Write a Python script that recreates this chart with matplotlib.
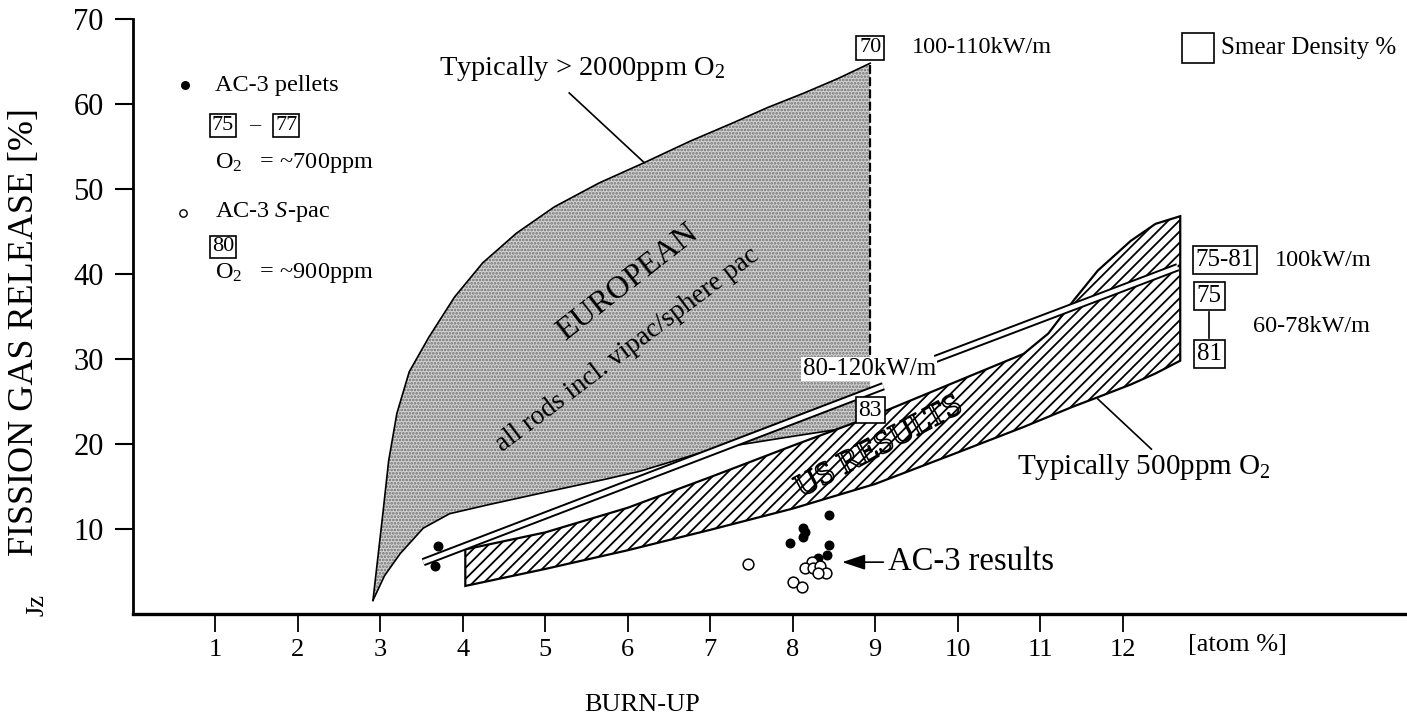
import numpy as np
import matplotlib
matplotlib.use('Agg')
import matplotlib.pyplot as plt
import matplotlib.patheffects as pe
from matplotlib.patches import Rectangle

plt.rcParams['font.family'] = ['Liberation Serif', 'DejaVu Serif']
plt.rcParams['mathtext.fontset'] = 'custom'
plt.rcParams['mathtext.rm'] = 'Liberation Serif'
plt.rcParams['mathtext.it'] = 'Liberation Serif:italic'
plt.rcParams['hatch.linewidth'] = 1.3

# ---- European band (all rods incl. vipac/sphere pac) ----
eu_upper_x = [2.91, 3.03, 3.10, 3.20, 3.35, 3.59, 3.90, 4.24, 4.65, 5.11, 5.65,
              6.20, 6.75, 7.28, 7.70, 8.14, 8.55, 8.94]
eu_upper_y = [1.6, 11.8, 18.0, 23.6, 28.5, 32.6, 37.3, 41.3, 44.8, 47.9, 50.7,
              53.1, 55.6, 57.8, 59.6, 61.3, 63.0, 64.8]
eu_lower_x = [2.91, 3.05, 3.24, 3.52, 3.84, 4.33, 4.94, 5.75, 6.15, 7.03, 8.00, 8.94]
eu_lower_y = [1.6, 4.5, 7.1, 10.1, 11.8, 12.9, 14.2, 15.9, 16.8, 19.4, 20.9, 22.3]

# ---- US results band ----
us_x = [4.03, 5.0, 6.0, 7.0, 8.0, 9.0, 10.0, 10.8, 11.1, 11.4, 11.7, 12.1, 12.4, 12.7]
us_upper = [7.6, 9.6, 12.5, 16.1, 19.8, 23.4, 27.4, 30.6, 33.0, 36.8, 40.4, 43.9, 45.9, 46.8]
us_lower = [3.3, 5.3, 7.5, 9.9, 12.4, 15.3, 19.0, 22.0, 23.2, 24.4, 25.5, 27.0, 28.3, 29.8]

# ---- 80-120 / 100 kW/m trend (drawn as a double line, broken at the label) ----
trend1_x = [3.52, 9.10]
trend1_y = [6.1, 26.8]
trend2_x = [9.73, 12.67]
trend2_y = [30.0, 40.8]

# ---- AC-3 results ----
pellets_x = [3.70, 3.66, 8.44, 8.13, 8.13, 7.97, 8.44, 8.42, 8.31, 8.15]
pellets_y = [8.0, 5.6, 11.6, 10.1, 9.1, 8.4, 8.1, 6.9, 6.6, 9.6]
spac_x = [7.46, 8.23, 8.15, 8.25, 8.33, 8.41, 8.31, 8.00, 8.11]
spac_y = [5.9, 6.1, 5.4, 5.4, 5.6, 4.8, 4.8, 3.8, 3.2]

x_ticks = [1, 2, 3, 4, 5, 6, 7, 8, 9, 10, 11, 12]
x_ticklabels = ['1', '2', '3', '4', '5', '6', '7', '8', '9', '10', '11', '12']
y_ticks = [10, 20, 30, 40, 50, 60, 70]

W, H = 1407, 722
fig = plt.figure(figsize=(W / 100, H / 100), dpi=100)
ax = fig.add_axes([133 / W, (H - 614) / H, (W - 133) / W, (614 - 19) / H])
ax.set_xlim(0, 15.45)
ax.set_ylim(0, 70)

for s in ['top', 'right']:
    ax.spines[s].set_visible(False)
ax.spines['left'].set_linewidth(2.0)
ax.spines['bottom'].set_linewidth(2.4)
ax.spines['left'].set_bounds(0, 70)

ax.set_xticks(x_ticks)
ax.set_xticklabels(x_ticklabels, fontsize=19)
ax.set_yticks(y_ticks)
ax.set_yticklabels([str(v) for v in y_ticks], fontsize=22)
ax.tick_params(axis='x', direction='out', length=13, width=1.3, pad=5)
ax.tick_params(axis='y', direction='out', length=13, width=1.5, pad=8)

# European region: stippled grey
eu_px = eu_upper_x + [eu_upper_x[-1]] + eu_lower_x[::-1]
eu_py = eu_upper_y + [eu_lower_y[-1]] + eu_lower_y[::-1]
ax.fill(eu_px, eu_py, facecolor='#d2d2d2', edgecolor='#707070', hatch='.....',
        linewidth=0, zorder=1)
ax.plot(eu_upper_x, eu_upper_y, color='k', lw=1.2, zorder=2)
ax.plot(eu_lower_x, eu_lower_y, color='k', lw=1.2, zorder=2)
ax.plot([eu_upper_x[-1], eu_upper_x[-1]], [30.5, eu_upper_y[-1]], color='k',
        lw=1.6, ls=(0, (4, 1.5)), zorder=2)

# US region: diagonal hatch
us_px = us_x + [us_x[-1]] + us_x[::-1]
us_py = us_upper + [us_lower[-1]] + us_lower[::-1]
ax.fill(us_px, us_py, facecolor='white', edgecolor='k', hatch='///',
        linewidth=1.6, zorder=3)

# double line trends
for tx, ty in [(trend1_x, trend1_y), (trend2_x, trend2_y)]:
    ax.plot(tx, ty, color='k', lw=6.0, solid_capstyle='butt', zorder=4)
    ax.plot(tx, ty, color='white', lw=3.2, solid_capstyle='butt', zorder=5)

# data points
ax.scatter(pellets_x, pellets_y, s=38, color='k', zorder=6)
ax.scatter(spac_x, spac_y, s=60, facecolor='white', edgecolor='k', linewidth=1.1, zorder=6)

# region labels
ax.text(6.0, 39.0, 'EUROPEAN', fontsize=23, rotation=38, ha='center', va='center', zorder=7)
ax.text(6.0, 31.1, 'all rods incl. vipac/sphere pac', fontsize=19.5, rotation=37,
        ha='center', va='center', zorder=7)
ax.text(9.05, 19.6, 'US RESULTS', fontsize=23, rotation=28, ha='center', va='center',
        color='none', zorder=7,
        path_effects=[pe.Stroke(linewidth=1.2, foreground='k')])

box = dict(boxstyle='square,pad=0.12', facecolor='white', edgecolor='k', linewidth=1.2)
sbox = dict(boxstyle='square,pad=0.08', facecolor='white', edgecolor='k', linewidth=1.2)

# annotations on the bands
ax.text(5.45, 64.2, 'Typically > 2000ppm O$_2$', fontsize=20.5, ha='center', va='center')
ax.plot([5.29, 6.2], [61.3, 53.1], color='k', lw=1.2)
ax.text(10.72, 17.3, 'Typically 500ppm O$_2$', fontsize=21, ha='left', va='center')
ax.plot([11.7, 12.35], [25.3, 19.4], color='k', lw=1.2)

ax.text(8.94, 66.6, '70', fontsize=16, ha='center', va='center', bbox=box, zorder=8)
ax.text(9.45, 66.7, '100-110kW/m', fontsize=17.5, ha='left', va='center')
ax.text(8.12, 28.8, '80-120kW/m', fontsize=18, ha='left', va='center', zorder=8,
        bbox=dict(boxstyle='square,pad=0.05', facecolor='white', edgecolor='none'))
ax.text(8.94, 24.0, '83', fontsize=17, ha='center', va='center', bbox=box, zorder=8)

ax.text(13.24, 41.6, '75-81', fontsize=18, ha='center', va='center', bbox=box)
ax.text(13.85, 41.6, '100kW/m', fontsize=17.5, ha='left', va='center')
ax.text(13.05, 37.4, '75', fontsize=18, ha='center', va='center', bbox=box, zorder=8)
ax.text(13.05, 30.6, '81', fontsize=18, ha='center', va='center', bbox=box, zorder=8)
ax.plot([13.05, 13.05], [35.5, 32.5], color='k', lw=1.2)
ax.text(13.58, 33.8, '60-78kW/m', fontsize=17.5, ha='left', va='center')

ax.add_patch(Rectangle((12.72, 64.8), 0.39, 3.6, facecolor='white', edgecolor='k',
                       linewidth=1.2, clip_on=False))
ax.text(13.2, 66.6, 'Smear Density %', fontsize=18, ha='left', va='center')

ax.annotate('AC-3 results', xy=(8.6, 6.1), xytext=(9.15, 6.1), fontsize=23.5,
            ha='left', va='center',
            arrowprops=dict(arrowstyle='-|>,head_length=0.6,head_width=0.2',
                            color='k', lw=1.2, shrinkA=1, shrinkB=0))

# legend block, upper left
ax.scatter([0.63], [62.2], s=30, color='k', clip_on=False)
ax.text(0.99, 62.2, 'AC-3 pellets', fontsize=17.5, ha='left', va='center')
ax.text(1.09, 57.5, '75', fontsize=16, ha='center', va='center', bbox=sbox)
ax.text(1.47, 57.5, '\u2013', fontsize=16, ha='center', va='center')
ax.text(1.86, 57.5, '77', fontsize=16, ha='center', va='center', bbox=sbox)
ax.text(0.99, 53.1, 'O$_2$   = ~700ppm', fontsize=17.5, ha='left', va='center')
ax.scatter([0.61], [47.2], s=28, facecolor='white', edgecolor='k', linewidth=1.0,
           clip_on=False)
ax.text(0.99, 47.3, 'AC-3 $S$-pac', fontsize=17.5, ha='left', va='center')
ax.text(1.09, 43.2, '80', fontsize=16, ha='center', va='center', bbox=sbox)
ax.text(0.99, 40.1, 'O$_2$   = ~900ppm', fontsize=17.5, ha='left', va='center')

# axis titles
fig.text(25 / W, 1 - 332 / H, 'FISSION GAS RELEASE [%]', fontsize=26, rotation=90,
         ha='center', va='center')
fig.text(642 / W, 1 - 705 / H, 'BURN-UP', fontsize=19, ha='center', va='center')
fig.text(1237 / W, 1 - 645 / H, '[atom %]', fontsize=19, ha='center', va='center')
fig.text(37 / W, 1 - 605 / H, 'Jz', fontsize=19, rotation=90, ha='center', va='center')

fig.savefig('out.png', dpi=100)
